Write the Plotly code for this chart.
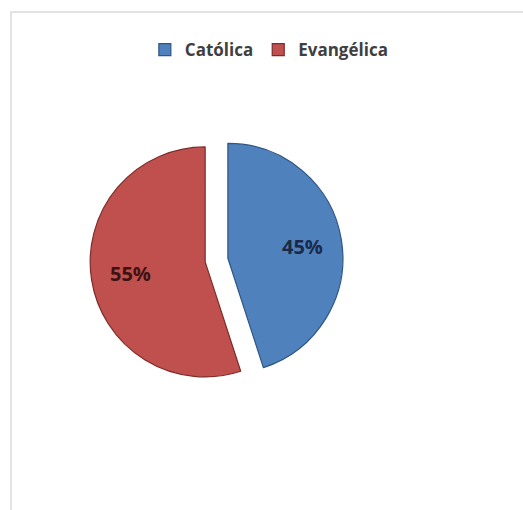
import math
import plotly.graph_objects as go

# Religious affiliation split
labels = ["Católica", "Evangélica"]
values = [45, 55]
colors = ["#4F81BD", "#C0504D"]
edge_colors = ["#2f5584", "#7d2b29"]
text_colors = ["#1a2a48", "#3f1212"]

W, H = 523, 510
PULL = 0.1
DOMAIN_X = [0.172, 0.656]
DOMAIN_Y = [0.242, 0.738]

fig = go.Figure(
    go.Pie(
        labels=labels,
        values=values,
        sort=False,
        direction="clockwise",
        rotation=0,
        pull=[PULL] * len(values),
        marker=dict(colors=colors, line=dict(color=edge_colors, width=1.2)),
        textinfo="none",
        hoverinfo="label+percent",
        domain=dict(x=DOMAIN_X, y=DOMAIN_Y),
    )
)

# Percentage labels placed along each slice's bisector, away from the centre
cx = (DOMAIN_X[0] + DOMAIN_X[1]) / 2 * W
cy = (DOMAIN_Y[0] + DOMAIN_Y[1]) / 2 * H
side = min((DOMAIN_X[1] - DOMAIN_X[0]) * W, (DOMAIN_Y[1] - DOMAIN_Y[0]) * H)
radius = side / 2 / (1 + PULL)
total = sum(values)
start = 0.0
annotations = []
for v, tc in zip(values, text_colors):
    mid = (start + v / 2) / total * 2 * math.pi
    start += v
    dist = radius * (PULL + 0.66)
    px = cx + dist * math.sin(mid)
    py = cy + dist * math.cos(mid)
    annotations.append(
        dict(
            x=px / W,
            y=py / H,
            xref="paper",
            yref="paper",
            xanchor="center",
            yanchor="middle",
            text=f"{round(v / total * 100)}%",
            showarrow=False,
            font=dict(family="Open Sans", size=20, color=tc, weight="bold"),
        )
    )

fig.update_layout(
    width=W,
    height=H,
    margin=dict(l=0, r=0, t=0, b=0),
    paper_bgcolor="white",
    plot_bgcolor="white",
    showlegend=True,
    annotations=annotations,
    legend=dict(
        orientation="h",
        x=0.515,
        xanchor="center",
        y=0.902,
        yanchor="middle",
        font=dict(family="Open Sans", size=17, color="#404040", weight="bold"),
        itemwidth=30,
        traceorder="normal",
    ),
    shapes=[
        dict(
            type="rect",
            xref="paper",
            yref="paper",
            x0=11 / W,
            x1=1.05,
            y0=-0.05,
            y1=1 - 12 / H,
            line=dict(color="#d9d9d9", width=1.5),
            fillcolor="rgba(0,0,0,0)",
            layer="below",
        )
    ],
)

fig.write_html("out.html")
